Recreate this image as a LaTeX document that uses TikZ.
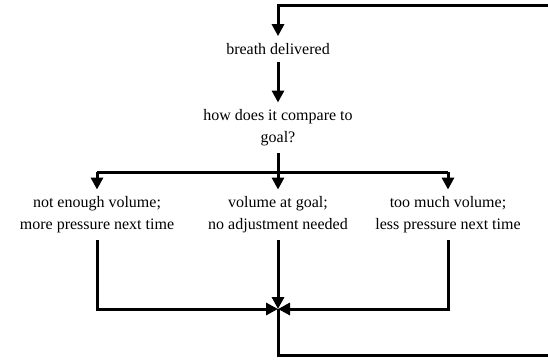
\documentclass[tikz,border=0pt]{standalone}
\usepackage{fontspec}
\setmainfont{Liberation Serif}
\usetikzlibrary{arrows.meta}
\tikzstyle{step box} = [align=center, inner sep=7pt, font=\fontsize{16}{22}\selectfont]
\tikzstyle{line} = [line width=3pt]
\tikzstyle{arrow} = [line width=3pt,-{Triangle[width=12pt,length=12pt]}]

\begin{document}
\begin{tikzpicture}[x=1pt,y=-1pt]
\useasboundingbox (0,0) rectangle (548,361);

%loop ends
\coordinate (loopin) at (548,6);
\coordinate (loopout) at (548,355);

%breath delivered
\node[step box] (delivered) at (278,49) {breath delivered};

%compare
\node[step box] (compare) at (278,128) {how does it compare to\\goal?};

%outcomes
\node[step box] (low) at (97,215) {not enough volume;\\more pressure next time};
\node[step box] (ok) at (278,215) {volume at goal;\\no adjustment needed};
\node[step box] (high) at (448,215) {too much volume;\\less pressure next time};

\coordinate (split) at (278,172);
\coordinate (join) at (278,309);

\draw[arrow] (loopin) -| (delivered);
\draw[arrow] (delivered) -- (compare);
\draw[line] (compare) -- (split);
\draw[line] (low |- split) -- (high |- split);
\draw[arrow] (low |- split) -- (low);
\draw[arrow] (split) -- (ok);
\draw[arrow] (high |- split) -- (high);

\draw[arrow] (low) |- (join);
\draw[arrow] (high) |- (join);
\draw[arrow] (ok) -- (join);
\draw[line] (join) |- (loopout);

\end{tikzpicture}
\end{document}
